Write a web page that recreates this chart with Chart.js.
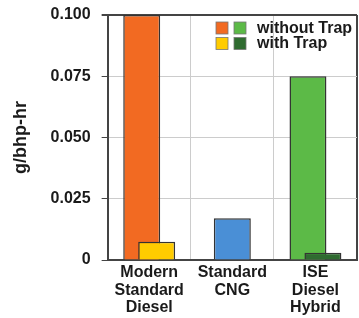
<!DOCTYPE html>
<html>
<head>
<meta charset="utf-8">
<script src="https://cdn.jsdelivr.net/npm/chart.js@4.4.1/dist/chart.umd.min.js"></script>
<style>
  html, body { margin: 0; padding: 0; background: #fff; }
  #wrap { width: 359px; height: 318px; }
</style>
</head>
<body>
<div id="wrap"><canvas id="trap-chart"></canvas></div>
<script>
// Chart data
const categories = [['Modern', 'Standard', 'Diesel'], ['Standard', 'CNG'], ['ISE', 'Diesel', 'Hybrid']];
const withoutTrap = [0.100, 0.017, 0.075];
const withTrap = [0.0075, null, 0.003];
const yTicks = [0, 0.025, 0.050, 0.075, 0.100];

// Colours
const withoutColors = ['#f26a22', '#4a8fd6', '#5cba47'];
const withColors = ['#ffcc00', '#ffcc00', '#2f6b30'];
const darkLine = '#444';
const lightLine = '#cccccc';

// draw datasets in forward order so "with Trap" sits on top of its neighbour
const drawOrder = {
    id: 'drawOrder',
    beforeDatasetsDraw(chart) {
        chart.getSortedVisibleDatasetMetas().forEach(meta => meta.controller.draw());
        return false;
    }
};

// legend with two swatches per entry, inside the plot box
const trapLegend = {
    id: 'trapLegend',
    afterDraw(chart) {
        const { ctx, chartArea } = chart;
        ctx.save();
        ctx.font = 'bold 16px "Liberation Sans", Arial, sans-serif';
        ctx.textBaseline = 'middle';
        ctx.textAlign = 'left';
        chart.data.datasets.forEach((ds, i) => {
            const top = chartArea.top + 7 + i * 15.5;
            const swatches = [ds.backgroundColor[0], ds.backgroundColor[ds.backgroundColor.length - 1]];
            swatches.forEach((c, j) => {
                const x = chartArea.right - 141 + j * 18;
                ctx.fillStyle = c;
                ctx.fillRect(x, top, 12, 12);
                ctx.strokeStyle = '#777';
                ctx.lineWidth = 0.8;
                ctx.strokeRect(x, top, 12, 12);
            });
            ctx.fillStyle = '#1a1a1a';
            ctx.fillText(ds.label, chartArea.right - 100, top + 6.5);
        });
        ctx.restore();
    }
};

Chart.defaults.font.family = '"Liberation Sans", Arial, sans-serif';
Chart.defaults.font.weight = 'bold';
Chart.defaults.color = '#1a1a1a';

const ctx = document.getElementById('trap-chart').getContext('2d');
const trapChart = new Chart(ctx, {
    type: 'bar',
    data: {
        labels: categories,
        datasets: [{
            label: 'without Trap',
            data: withoutTrap,
            backgroundColor: withoutColors,
            borderColor: '#333',
            borderWidth: 1.5
        }, {
            label: 'with Trap',
            data: withTrap,
            backgroundColor: withColors,
            borderColor: '#333',
            borderWidth: 1.5
        }]
    },
    options: {
        responsive: true,
        maintainAspectRatio: false,
        animation: false,
        skipNull: true,
        categoryPercentage: 0.36,
        barPercentage: 2.47,
        maxBarThickness: 37,
        layout: { padding: { left: 4, right: 2, top: 15, bottom: 0 } },
        plugins: {
            legend: { display: false },
            tooltip: { enabled: false }
        },
        scales: {
            x: {
                afterFit: s => { s.height = 58; },
                grid: {
                    offset: true,
                    drawTicks: false,
                    color: c => c.tick ? lightLine : darkLine,
                    lineWidth: c => c.tick ? 1 : 2
                },
                border: { color: darkLine, width: 2 },
                ticks: {
                    padding: 4,
                    font: { size: 16, weight: 'bold', lineHeight: 1.1 },
                    maxRotation: 0,
                    autoSkip: false
                }
            },
            y: {
                min: 0,
                max: 0.1,
                afterBuildTicks: scale => { scale.ticks = yTicks.map(v => ({ value: v })); },
                afterFit: s => { s.paddingTop = 0; },
                grid: {
                    color: c => c.tick && c.tick.value === 0.1 ? darkLine : lightLine,
                    lineWidth: c => c.tick && c.tick.value === 0.1 ? 2 : 1,
                    tickColor: darkLine,
                    tickLength: 6
                },
                border: { color: darkLine, width: 2 },
                ticks: {
                    padding: 11,
                    font: { size: 16, weight: 'bold' },
                    callback: v => v === 0 ? '0' : v.toFixed(3)
                },
                title: {
                    display: true,
                    text: 'g/bhp-hr',
                    font: { size: 18, weight: 'bold' },
                    padding: { top: 6, bottom: 8 }
                }
            }
        }
    },
    plugins: [drawOrder, trapLegend]
});
</script>
</body>
</html>
